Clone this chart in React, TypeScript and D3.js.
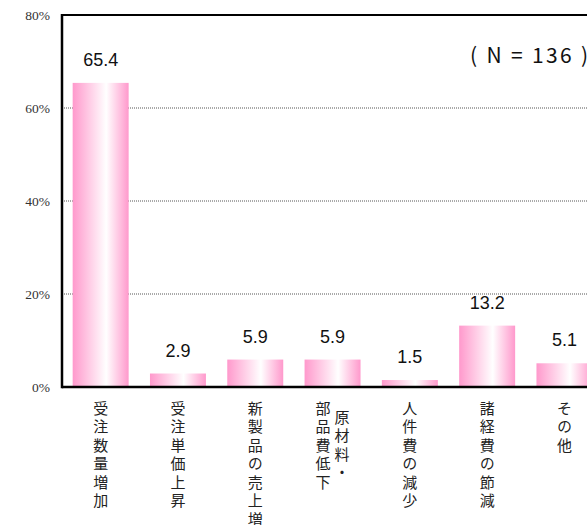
import React from "react";
import * as d3 from "d3";

// 項目名（縦書き、改行は列の区切り）
const categories = [
  "受注数量増加",
  "受注単価上昇",
  "新製品の売上増",
  "原材料・\n部品費低下",
  "人件費の減少",
  "諸経費の節減",
  "その他",
];
const values = [65.4, 2.9, 5.9, 5.9, 1.5, 13.2, 5.1];
const yTicks = [0, 20, 40, 60, 80];
const sampleNote = "( N = 136 )";

const W = 587;
const H = 525;
const plotLeft = 62;
const plotTop = 15;
const plotBottom = 387;
const step = 77.3;
const plotRight = plotLeft + step * categories.length;

const jpFont = "'Noto Sans CJK JP', 'Noto Sans', sans-serif";
const numFont = "'Liberation Sans', Arial, sans-serif";
const tickFont = "'Liberation Serif', 'DejaVu Serif', serif";

export default function App() {
  const x = d3
    .scaleBand<string>()
    .domain(categories)
    .range([plotLeft, plotRight])
    .paddingInner(0.276)
    .paddingOuter(0.138);
  const y = d3.scaleLinear().domain([0, 80]).range([plotBottom, plotTop]);

  const labelSize = 15;
  const charStep = 18.5;
  const colGap = 19;
  const labelTop = 400.5;

  return (
    <svg
      width={W}
      height={H}
      style={{ position: "absolute", left: 0, top: 0, background: "#fff" }}
    >
      <defs>
        <linearGradient id="barFill" x1="0" y1="0" x2="1" y2="0">
          <stop offset="0" stopColor="#ff99cc" />
          <stop offset="0.6" stopColor="#ffffff" />
          <stop offset="1" stopColor="#ff99cc" />
        </linearGradient>
      </defs>

      {/* 目盛線 */}
      {yTicks
        .filter((t) => t > 0 && t < 80)
        .map((t) => (
          <line
            key={`g${t}`}
            x1={plotLeft}
            x2={plotRight}
            y1={y(t)}
            y2={y(t)}
            stroke="#555"
            strokeWidth={1}
            strokeDasharray="1,1"
          />
        ))}

      {/* 棒 */}
      {categories.map((c, i) => (
        <rect
          key={`b${i}`}
          x={x(c)}
          y={y(values[i])}
          width={x.bandwidth()}
          height={y(0) - y(values[i])}
          fill="url(#barFill)"
        />
      ))}

      {/* 枠線 */}
      <line x1={plotLeft} x2={plotRight} y1={plotTop} y2={plotTop} stroke="#000" strokeWidth={2} />
      <line x1={plotLeft} x2={plotRight} y1={plotBottom} y2={plotBottom} stroke="#000" strokeWidth={2.5} />
      <line x1={plotLeft} x2={plotLeft} y1={plotTop - 1} y2={plotBottom + 1.2} stroke="#000" strokeWidth={2.5} />

      {/* 軸ラベル */}
      {yTicks.map((t) => (
        <text
          key={`t${t}`}
          x={50}
          y={y(t)}
          textAnchor="end"
          dominantBaseline="central"
          style={{ fontFamily: tickFont, fontSize: "13.5px" }}
          fill="#333"
        >
          {`${t}%`}
        </text>
      ))}

      {/* 数値ラベル */}
      {categories.map((c, i) => (
        <text
          key={`v${i}`}
          x={(x(c) as number) + x.bandwidth() / 2}
          y={y(values[i]) - 17}
          textAnchor="middle"
          fontFamily={numFont}
          fontSize={18}
          fill="#111"
        >
          {values[i].toFixed(1)}
        </text>
      ))}

      {/* 項目名（縦書き） */}
      {categories.map((c, i) => {
        const cx = (x(c) as number) + x.bandwidth() / 2;
        const cols = c.split("\n");
        const maxLen = d3.max(cols, (s) => Array.from(s).length) as number;
        return (
          <g key={`c${i}`}>
            {cols.map((col, j) => {
              // 右の列から読む
              const colX = cx + ((cols.length - 1) / 2 - j) * colGap;
              const offset = ((maxLen - Array.from(col).length) * charStep) / 2;
              return (
                <text
                  key={j}
                  x={colX}
                  y={labelTop + offset}
                  style={{ writingMode: "vertical-rl" }}
                  letterSpacing={charStep - labelSize}
                  fontFamily={jpFont}
                  fontSize={labelSize}
                  fill="#222"
                >
                  {col}
                </text>
              );
            })}
          </g>
        );
      })}

      {/* 回答数 */}
      <text
        x={470}
        y={63}
        fontFamily={jpFont}
        fontSize={21}
        fill="#111"
        textLength={118}
        lengthAdjust="spacing"
      >
        {sampleNote}
      </text>
    </svg>
  );
}
